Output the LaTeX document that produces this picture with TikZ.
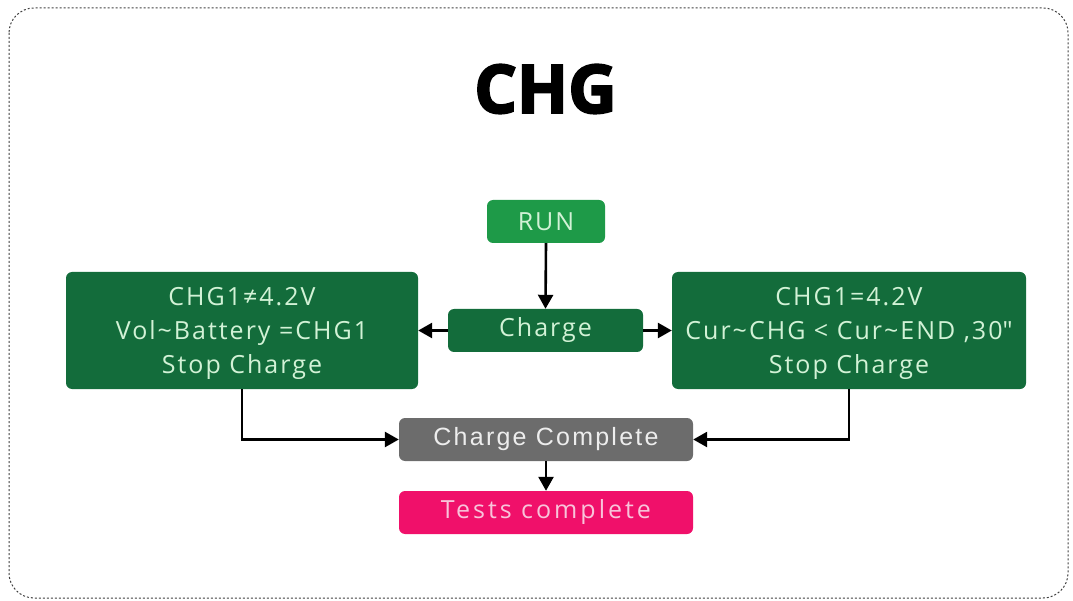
\documentclass[tikz,border=0pt]{standalone}
\usepackage{fontspec}
\setmainfont{Open Sans}[LetterSpace=8]
\newfontfamily\testsfont{Open Sans}[LetterSpace=12]
\newfontfamily\quotefont{Open Sans}[LetterSpace=8, Ligatures=TeXOff]
\newfontfamily\titlefont{Open Sans}[FakeBold=3]
\newfontfamily\ccfont{Liberation Sans}[LetterSpace=9]
\usetikzlibrary{arrows.meta}
\definecolor{runG}{HTML}{1E9A48}
\definecolor{darkG}{HTML}{136C3B}
\definecolor{txtG}{HTML}{D2F2D6}
\definecolor{ccGray}{HTML}{6C6C6C}
\definecolor{pinkT}{HTML}{F0106A}
\definecolor{pinkTxt}{HTML}{F8C4DA}
\tikzset{
  box/.style={rectangle, rounded corners=6pt, inner sep=0pt, align=center, text=txtG},
  bigbox/.style={box, fill=darkG, minimum height=117pt, font=\fontsize{25}{34}\selectfont, text depth=0pt},
  conn/.style={line width=2.6pt, -{Triangle[length=14pt,width=15pt]}},
}
\begin{document}
\begin{tikzpicture}[x=1pt,y=-1pt]
\useasboundingbox (0,0) rectangle (1073,601);
\draw[black!75, line width=1pt, dash pattern=on 2pt off 2pt, rounded corners=25pt] (9,8) rectangle (1068,598);
\node[inner sep=0pt] (title) at (545.5,89) {\titlefont\bfseries\fontsize{67}{70}\selectfont CHG};
\node[box, fill=runG, minimum width=118pt, minimum height=43pt, font=\fontsize{25}{28}\selectfont] (run) at (546,221.5) {RUN};
\node[box, fill=darkG, minimum width=195pt, minimum height=43pt, font=\fontsize{25}{28}\selectfont] (charge) at (545.5,330.5) {Charge};
\node[bigbox, minimum width=352pt] (left) at (242,330.5) {CHG1≠4.2V\\Vol\textasciitilde Battery =CHG1\\Stop Charge};
\node[bigbox, minimum width=354pt] (right) at (849,330.5) {CHG1=4.2V\\Cur\textasciitilde CHG < Cur\textasciitilde END ,30{\quotefont"}\\Stop Charge};
\node[box, fill=ccGray, text=white!93!black, minimum width=294pt, minimum height=43pt, font=\ccfont\fontsize{25}{28}\selectfont] (cc) at (546,439.5) {Charge Complete};
\node[box, fill=pinkT, text=pinkTxt, minimum width=294pt, minimum height=43pt, font=\testsfont\fontsize{25}{28}\selectfont] (tests) at (546,512.5) {Tests complete};
\draw[conn] (run.south) -- (charge.north);
\draw[conn] (charge.west) -- (left.east);
\draw[conn] (charge.east) -- (right.west);
\draw[conn] (left.south) |- (cc.west);
\draw[conn] (right.south) |- (cc.east);
\draw[conn] (cc.south) -- (tests.north);
\end{tikzpicture}
\end{document}
